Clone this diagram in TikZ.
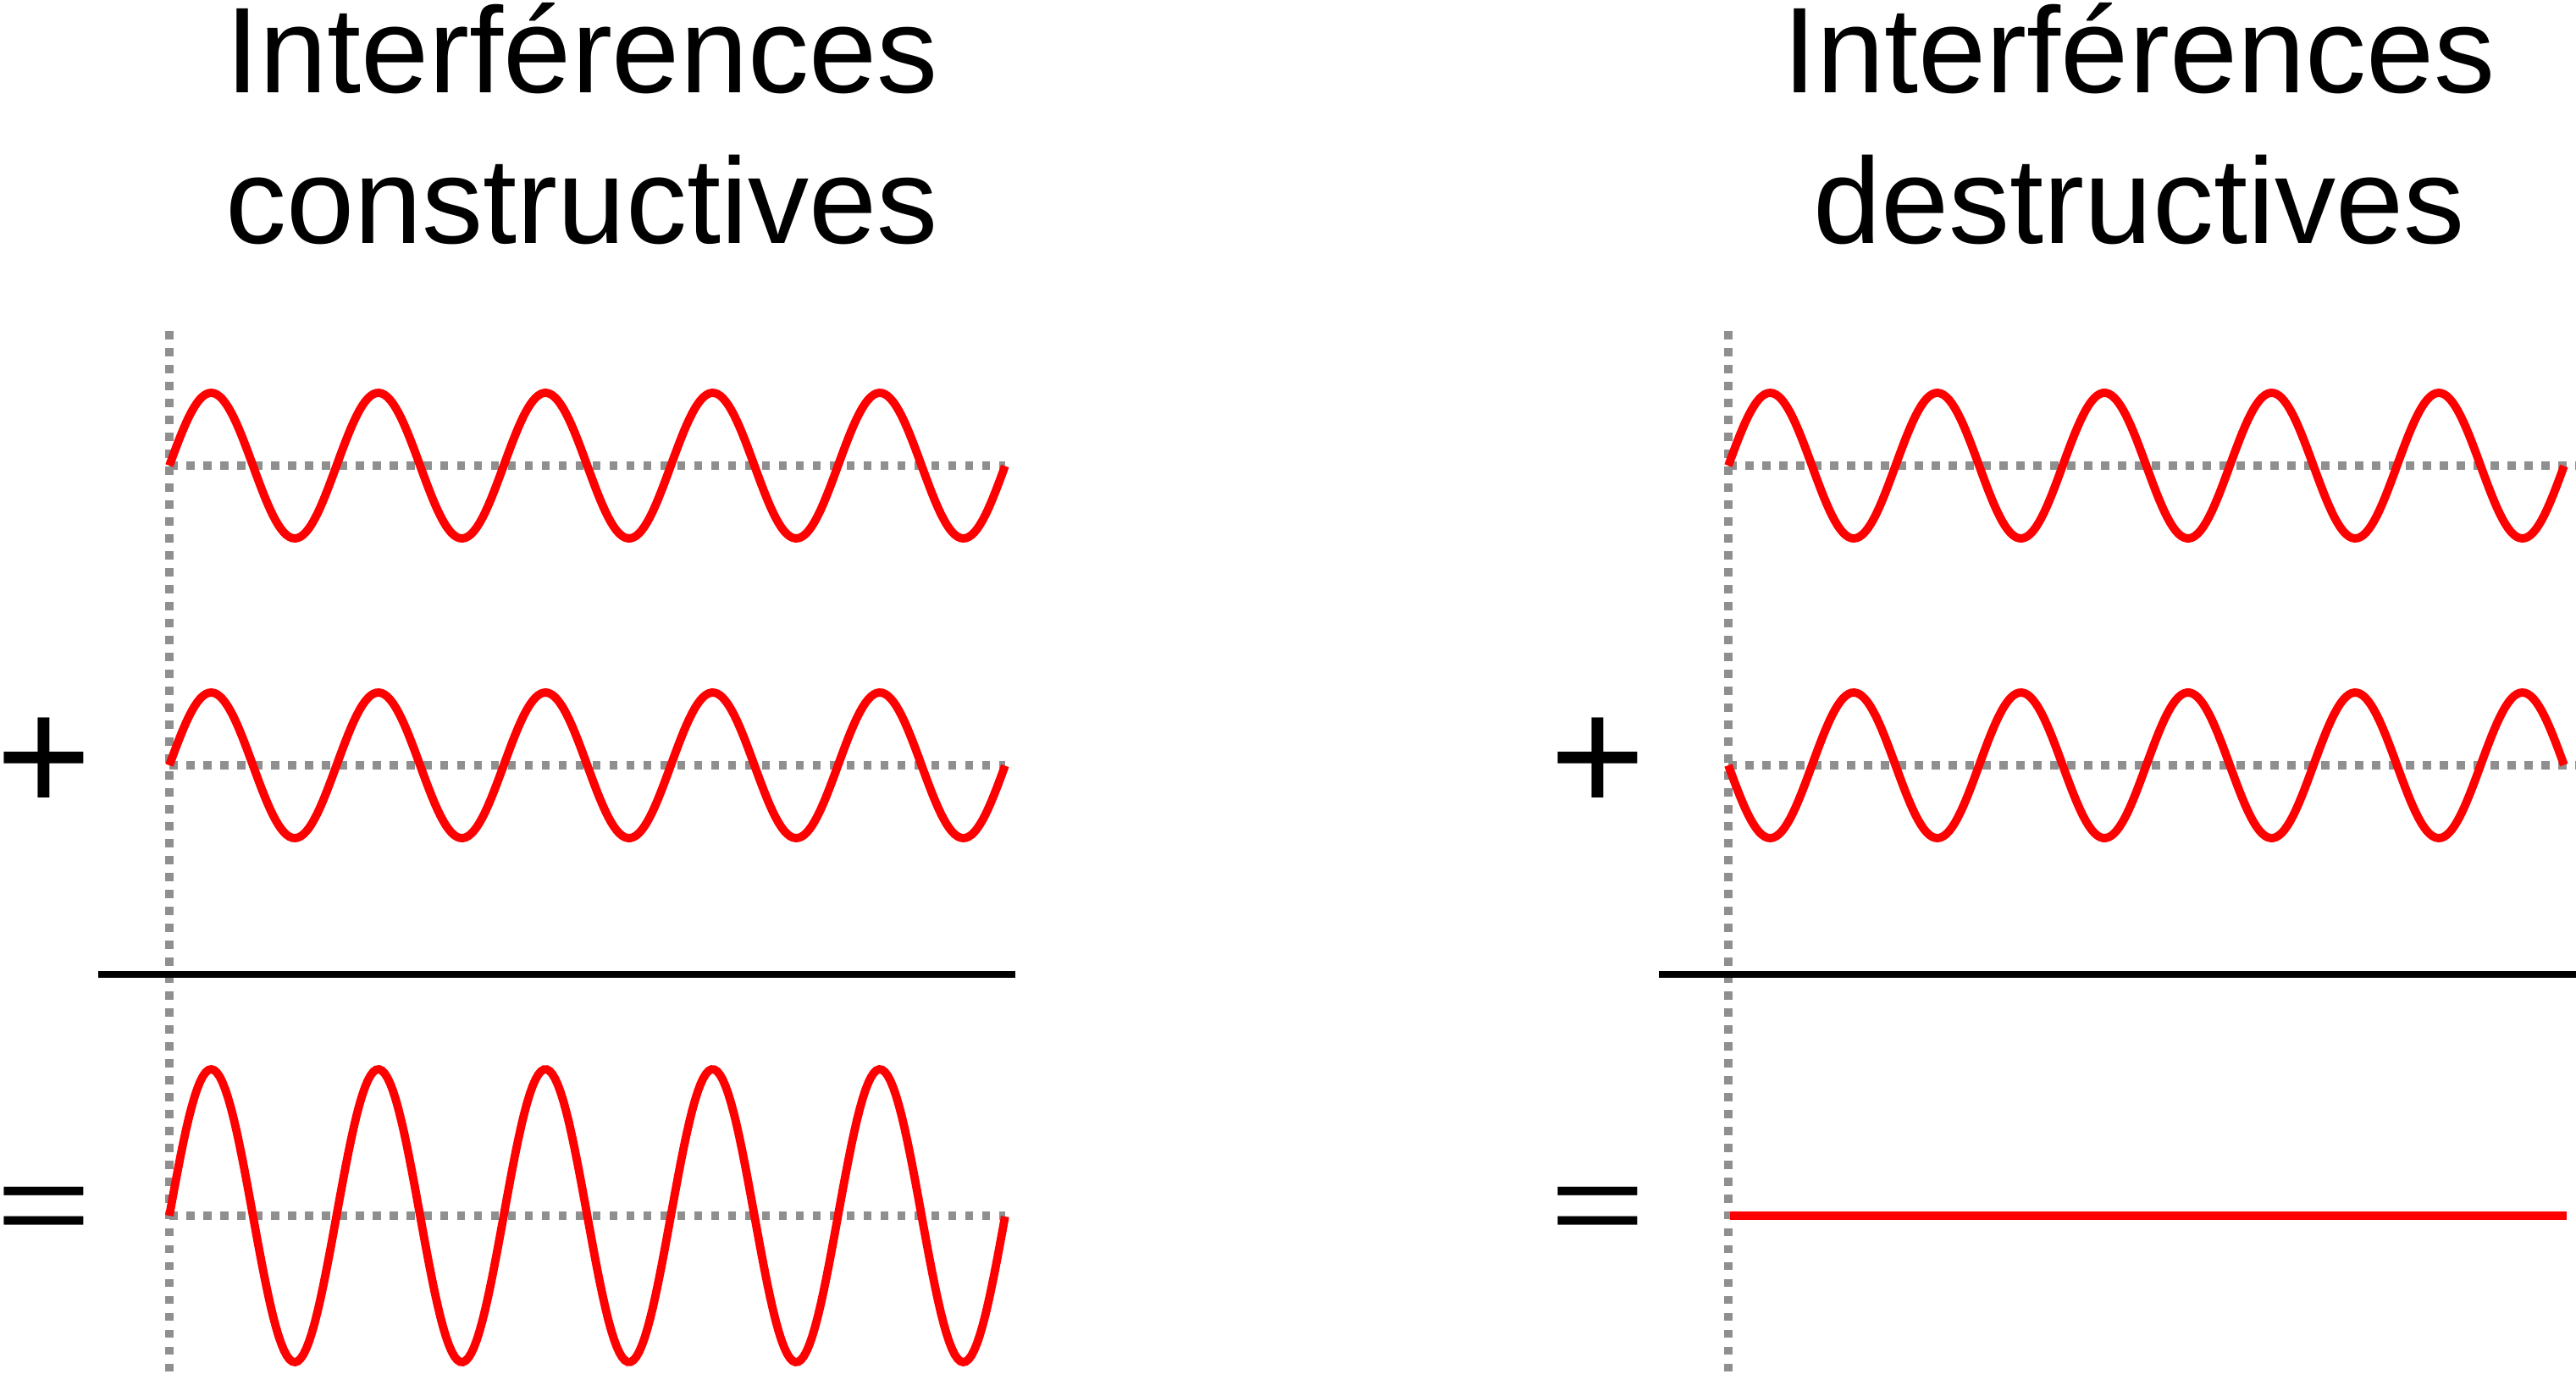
\documentclass[tikz,border=0pt]{standalone}
\usepackage{graphicx}
\usepackage{fontspec}
\setmainfont{Liberation Sans}
\definecolor{dotgray}{RGB}{143,143,143}

\begin{document}
\begin{tikzpicture}[
    wave/.style={red, line width=2.8pt},
    guide/.style={dotgray, line width=2.7pt, dash pattern=on 0.095cm off 0.105cm},
    sumline/.style={black, line width=2.15pt},
    title/.style={font=\fontsize{41}{48}\selectfont, anchor=base, inner sep=0pt},
    sign/.style={font=\fontsize{55}{60}\selectfont, inner sep=0pt}
]
    % Fix the page size
    \useasboundingbox (0,0) rectangle (30.42,-16.22);

    % Titles
    \node[title] (constrA) at (6.87,-1.09) {Interférences};
    \node[title] (constrB) at (6.87,-2.87) {constructives};
    \node[title] (destrA) at (25.26,-1.09) {Interférences};
    \node[title] (destrB) at (25.26,-2.87) {destructives};

    % Vertical guides
    \draw[guide] (2.00,-3.91) -- (2.00,-16.22);
    \draw[guide] (20.41,-3.91) -- (20.41,-16.22);

    % Axes of the waves
    \foreach \y in {-5.50,-9.04,-14.36}
        \draw[guide] (2.00,\y) -- (11.87,\y);
    \foreach \y in {-5.50,-9.04}
        \draw[guide] (20.41,\y) -- (30.42,\y);

    % Sum lines
    \draw[sumline] (1.16,-11.51) -- (11.99,-11.51);
    \draw[sumline] (19.59,-11.51) -- (30.42,-11.51);

    % Constructive case
    \draw[wave] plot[domain=0:9.87, samples=300] ({2.00+\x}, {-5.50+0.86*sin(\x/1.974*360)});
    \draw[wave] plot[domain=0:9.87, samples=300] ({2.00+\x}, {-9.04+0.86*sin(\x/1.974*360)});
    \draw[wave] plot[domain=0:9.87, samples=300] ({2.00+\x}, {-14.36+1.73*sin(\x/1.974*360)});

    % Destructive case
    \draw[wave] plot[domain=0:9.87, samples=300] ({20.41+\x}, {-5.50+0.86*sin(\x/1.974*360)});
    \draw[wave] plot[domain=0:9.87, samples=300] ({20.41+\x}, {-9.04-0.86*sin(\x/1.974*360)});
    \draw[wave] (20.43,-14.36) -- (30.31,-14.36);

    % Signs
    \node[sign] (plusL) at (0.52,-9.04) {+};
    \node[sign] (equalL) at (0.52,-14.36) {\scalebox{1}[0.72]{=}};
    \node[sign] (plusR) at (18.87,-9.04) {+};
    \node[sign] (equalR) at (18.87,-14.36) {\scalebox{1}[0.72]{=}};
\end{tikzpicture}
\end{document}
